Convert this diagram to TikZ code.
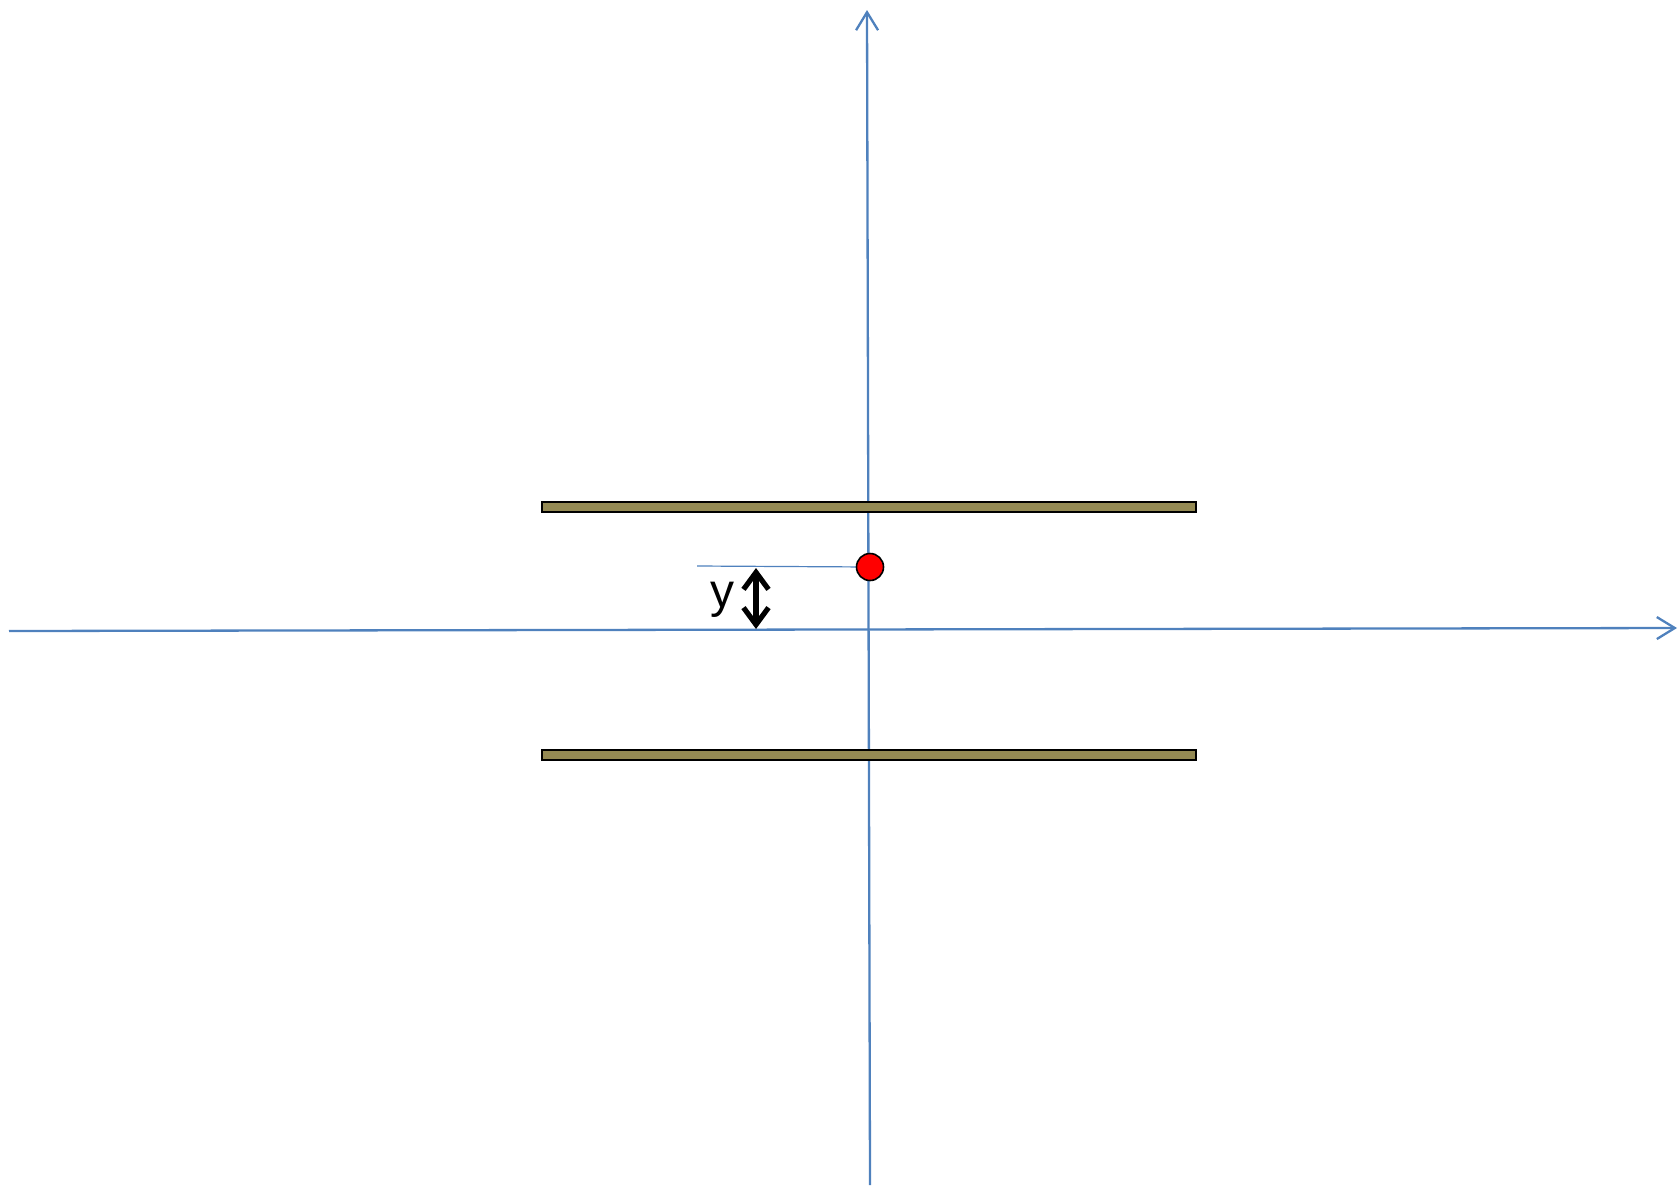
\documentclass[tikz,border=0pt]{standalone}
\usepackage{fontspec}
\setmainfont{Liberation Sans}
\usetikzlibrary{arrows.meta}
\definecolor{AxisBlue}{RGB}{79,129,189}
\definecolor{PlateOlive}{RGB}{148,138,84}
\definecolor{ChargeRed}{RGB}{255,0,0}

\begin{document}
\begin{tikzpicture}[x=0.5pt, y=-0.5pt,
	axis/.style={AxisBlue, line width=1.15pt, -{Straight Barb[length=9pt,width=11pt]}},
	plate/.style={draw=black, fill=PlateOlive, line width=0.9pt},
	charge/.style={circle, draw=black, fill=ChargeRed, line width=0.8pt, minimum size=13.5pt, inner sep=0pt},
	guide/.style={AxisBlue, line width=0.6pt},
	gap/.style={black, line width=2.6pt, {Straight Barb[length=8.5pt,width=12.5pt]}-{Straight Barb[length=8.5pt,width=12.5pt]}}]
	\useasboundingbox (0,0) rectangle (1679,1189);
	% axes
	\coordinate (xl) at (9,631);
	\coordinate (xr) at (1677,628);
	\coordinate (yb) at (870,1185);
	\coordinate (yt) at (867,10);
	\draw[axis] (xl) -- (xr);
	\draw[axis] (yb) -- (yt);
	% plates
	\draw[plate] (542,502) rectangle (1196,512);
	\draw[plate] (542,750) rectangle (1196,760);
	% charge and its height
	\coordinate (ref) at (697,566);
	\coordinate (q0) at (870,567);
	\draw[guide] (ref) -- (q0);
	\node[charge] (q) at (q0) {};
	\coordinate (gtop) at (756,568);
	\coordinate (gbot) at (756,629);
	\draw[gap] (gtop) -- (gbot);
	\node[font=\fontsize{24}{28}\selectfont] (ylabel) at (722,600) {y};
\end{tikzpicture}
\end{document}
